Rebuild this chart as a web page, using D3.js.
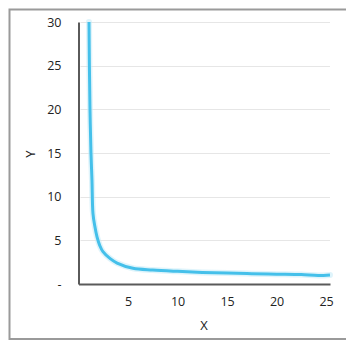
<!DOCTYPE html>
<html>
<head>
<meta charset="utf-8">
<script src="https://cdn.jsdelivr.net/npm/d3@7"></script>
<style>
  html, body { margin: 0; padding: 0; background: #fff; }
  svg { display: block; }
  svg text { font-family: "Open Sans", "Noto Sans", sans-serif; }
</style>
</head>
<body>
<svg id="chart" width="346" height="342"></svg>
<script>
// Curve samples (x, y)
const xValues = [1.06, 1.10, 1.16, 1.26, 1.36, 1.46, 1.65, 1.87, 2.15, 2.47, 3.2, 3.9, 5.5, 7.5, 10, 12.5, 15, 17.5, 20, 22.5, 24.2, 25.4];
const yValues = [30, 25, 20, 15, 11.9, 8.1, 6.6, 5.4, 4.4, 3.7, 2.9, 2.4, 1.8, 1.6, 1.45, 1.33, 1.25, 1.18, 1.13, 1.08, 0.98, 1.04];

const xTicks = [5, 10, 15, 20, 25];
const yTicks = [0, 5, 10, 15, 20, 25, 30];
const yTickLabels = ["-", "5", "10", "15", "20", "25", "30"];
const xTitle = "X";
const yTitle = "Y";

const svg = d3.select("#chart");
const fontFamily = '"Open Sans", "Noto Sans", sans-serif';

// Outer frame
svg.append("rect")
  .attr("x", 9.5).attr("y", 9.5)
  .attr("width", 345).attr("height", 329.5)
  .attr("fill", "none")
  .attr("stroke", "#9a9a9a")
  .attr("stroke-width", 2);

const plotLeft = 78.5, plotRight = 330, plotTop = 22, plotBottom = 284;

const x = d3.scaleLinear().domain([0, 25.4]).range([plotLeft, plotRight]);
const y = d3.scaleLinear().domain([0, 30]).range([plotBottom, plotTop]);

// Horizontal gridlines
svg.append("g")
  .selectAll("line")
  .data(yTicks.filter(d => d > 0))
  .join("line")
  .attr("x1", plotLeft + 2).attr("x2", plotRight)
  .attr("y1", d => Math.round(y(d)) + 0.5)
  .attr("y2", d => Math.round(y(d)) + 0.5)
  .attr("stroke", "#e6e6e6")
  .attr("stroke-width", 1);

// Y axis
const yAxis = svg.append("g")
  .attr("transform", `translate(${plotLeft},0)`)
  .call(d3.axisLeft(y).tickValues(yTicks)
    .tickFormat((d, i) => yTickLabels[i]).tickSize(0).tickPadding(17));
yAxis.attr("font-family", fontFamily);
yAxis.select(".domain").attr("stroke", "#5a5a5a").attr("stroke-width", 2);
yAxis.selectAll("text").attr("fill", "#222").style("font-size", "12.5px");

// X axis
const xAxis = svg.append("g")
  .attr("transform", `translate(0,${plotBottom})`)
  .call(d3.axisBottom(x).tickValues(xTicks).tickSize(0).tickPadding(13));
xAxis.attr("font-family", fontFamily);
xAxis.select(".domain").attr("stroke", "#5a5a5a").attr("stroke-width", 2);
xAxis.selectAll("text").attr("fill", "#222").style("font-size", "12.5px");

// Axis titles
svg.append("text")
  .attr("x", 204).attr("y", 330)
  .attr("text-anchor", "middle")
  .attr("fill", "#222")
  .style("font-size", "13px")
  .text(xTitle);

svg.append("text")
  .attr("transform", "translate(35,154) rotate(-90)")
  .attr("text-anchor", "middle")
  .attr("fill", "#222")
  .style("font-size", "13px")
  .text(yTitle);

// Curve
const pts = xValues.map((v, i) => [v, yValues[i]]);
const line = d3.line()
  .x(d => x(d[0]))
  .y(d => y(d[1]))
  .curve(d3.curveCatmullRom.alpha(0.5));

svg.append("path")
  .datum(pts)
  .attr("d", line)
  .attr("fill", "none")
  .attr("stroke", "#bfe9f7")
  .attr("stroke-opacity", 0.5)
  .attr("stroke-width", 6)
  .attr("stroke-linecap", "round");

svg.append("path")
  .datum(pts)
  .attr("d", line)
  .attr("fill", "none")
  .attr("stroke", "#45c0ea")
  .attr("stroke-width", 3)
  .attr("stroke-linejoin", "round");
</script>
</body>
</html>
